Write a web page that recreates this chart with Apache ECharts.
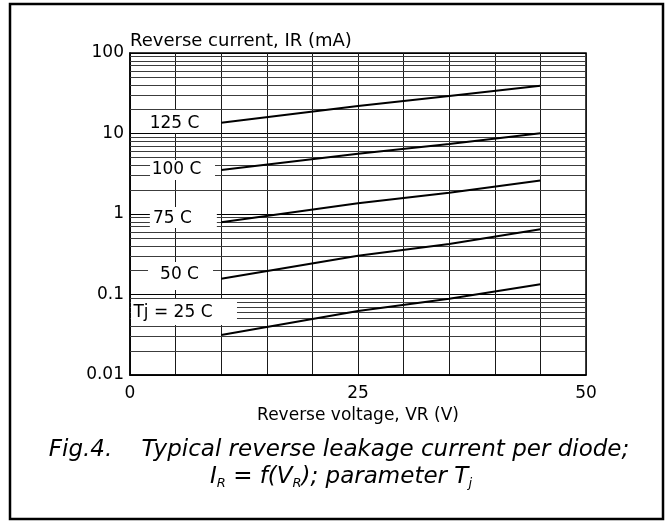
<!DOCTYPE html>
<html>
<head>
<meta charset="utf-8">
<script src="https://cdn.jsdelivr.net/npm/echarts@6/dist/echarts.min.js"></script>
<style>
html,body{margin:0;padding:0;background:#fff;}
#c{width:669px;height:524px;}
</style>
</head>
<body>
<div id="c"></div>
<script>
// ---- data ----
const voltage = [10, 25, 35, 45];                 // VR (V)
const ir25  = [0.0314, 0.0624, 0.0887, 0.134];    // IR (mA), Tj = 25 C
const ir50  = [0.157, 0.303, 0.424, 0.645];
const ir75  = [0.79, 1.36, 1.84, 2.6];
const ir100 = [3.52, 5.6, 7.41, 10.06];
const ir125 = [13.6, 22.0, 29.2, 39.2];
const seriesNames = ['Tj = 25 C', '50 C', '75 C', '100 C', '125 C'];
const xTickLabels = [0, 25, 50];
const yTickLabels = [0.01, 0.1, 1, 10, 100];
const minorMultipliers = [2, 3, 4, 5, 6, 7, 8, 9];

// ---- layout helpers (not data) ----
const labelAnchors = {
  'Tj = 25 C': {coord: [5.92, 0.0607], size: [106, 26], offset: [-11, 1]},
  '50 C':      {coord: [5.54, 0.170],  size: [65, 28],  offset: [-1, -1]},
  '75 C':      {coord: [5.85, 0.905],  size: [67, 21],  offset: [-11, 1]},
  '100 C':     {coord: [5.76, 3.52],   size: [65, 20],  offset: [-6, 0]},
  '125 C':     {coord: [5.87, 14.1],   size: [67, 23],  offset: [-9, 2]}
};
const FONT = 'DejaVu Sans';

const seriesValues = [ir25, ir50, ir75, ir100, ir125];

const minorValues = [];
for (let d = 0; d < yTickLabels.length - 1; d++) {
  minorMultipliers.forEach(m => minorValues.push(+(yTickLabels[d] * m).toPrecision(3)));
}

const series = seriesValues.map((vals, i) => {
  const name = seriesNames[i];
  const a = labelAnchors[name];
  return {
    name: name,
    type: 'line',
    z: 3,
    showSymbol: false,
    symbol: 'none',
    silent: true,
    lineStyle: {color: '#000', width: 2},
    data: voltage.map((v, k) => [v, vals[k]]),
    markPoint: {
      z: 6,
      silent: true,
      symbol: 'rect',
      symbolSize: a.size,
      itemStyle: {color: '#fff'},
      label: {
        show: true, position: 'inside', offset: a.offset,
        color: '#000', fontFamily: FONT, fontSize: 17,
        formatter: name
      },
      data: [{coord: a.coord}]
    }
  };
});

series.push({
  type: 'line',
  data: [],
  z: 1,
  silent: true,
  markLine: {
    z: 1,
    silent: true,
    symbol: ['none', 'none'],
    label: {show: false},
    lineStyle: {color: '#3c3c3c', width: 1, type: 'solid'},
    emphasis: {disabled: true},
    data: minorValues.map(v => ({yAxis: v}))
  }
});

const chart = echarts.init(document.getElementById('c'), null, {renderer: 'canvas'});
chart.setOption({
  animation: false,
  backgroundColor: '#fff',
  grid: {left: 130, top: 53, right: 83, bottom: 149, show: true,
         borderColor: '#000', borderWidth: 1.5, backgroundColor: 'transparent'},
  xAxis: {
    type: 'value', min: 0, max: 50, interval: 5,
    name: 'Reverse voltage, VR (V)', nameLocation: 'middle', nameGap: 32,
    nameTextStyle: {color: '#000', fontFamily: FONT, fontSize: 17},
    axisLine: {show: true, lineStyle: {color: '#000', width: 1.5}},
    axisTick: {show: false},
    axisLabel: {
      color: '#000', fontFamily: FONT, fontSize: 17, margin: 10,
      formatter: v => (xTickLabels.indexOf(v) >= 0 ? String(v) : '')
    },
    splitLine: {show: true, lineStyle: {color: '#1a1a1a', width: 1}}
  },
  yAxis: {
    type: 'log', logBase: 10, min: yTickLabels[0], max: yTickLabels[yTickLabels.length - 1],
    name: 'Reverse current, IR (mA)', nameLocation: 'end', nameGap: 3,
    nameTextStyle: {color: '#000', fontFamily: FONT, fontSize: 18, align: 'left', verticalAlign: 'bottom'},
    axisLine: {show: true, lineStyle: {color: '#000', width: 1.5}},
    axisTick: {show: false},
    axisLabel: {color: '#000', fontFamily: FONT, fontSize: 17, margin: 6,
      formatter: v => String(+v.toPrecision(3))},
    splitLine: {show: true, lineStyle: {color: '#000', width: 1}}
  },
  graphic: [
    {type: 'rect', z: 100, silent: true,
     shape: {x: 10, y: 4, width: 653, height: 515},
     style: {fill: 'none', stroke: '#000', lineWidth: 2.5}},
    {type: 'text', z: 100, x: 339, y: 450, silent: true,
     style: {text: 'Fig.4.    Typical reverse leakage current per diode;',
             fontFamily: FONT, fontStyle: 'italic', fontSize: 23, fill: '#000',
             align: 'center', verticalAlign: 'middle'}},
    {type: 'text', z: 100, x: 341, y: 477, silent: true,
     style: {text: '{n|I}{s|R}{n| = f(V}{s|R}{n|); parameter T}{s|j}',
             fontFamily: FONT, fontStyle: 'italic', fontSize: 23, fill: '#000',
             align: 'center', verticalAlign: 'middle',
             rich: {
               n: {fontFamily: FONT, fontStyle: 'italic', fontSize: 23, lineHeight: 26, verticalAlign: 'middle'},
               s: {fontFamily: FONT, fontStyle: 'italic', fontSize: 13, lineHeight: 14, verticalAlign: 'bottom'}
             }}}
  ],
  series: series
});
</script>
</body>
</html>
